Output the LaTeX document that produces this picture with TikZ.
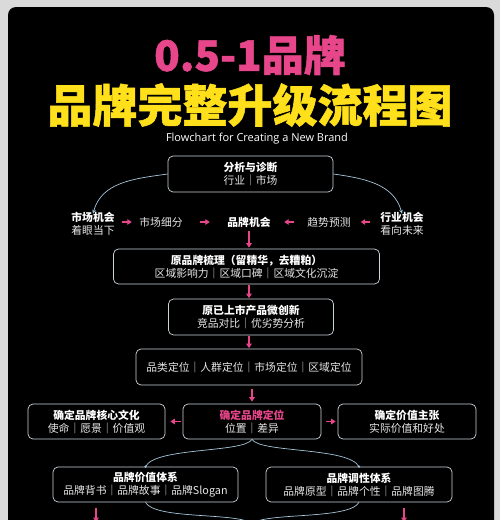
\documentclass[tikz,border=0pt]{standalone}
\usepackage{fontspec}
\setmainfont{Noto Sans CJK SC}
\newfontfamily\opensans{Open Sans}
\newfontfamily\heavyfont[BoldFeatures={FakeBold=1.2}]{Noto Sans CJK SC}
\usetikzlibrary{arrows.meta}
\definecolor{bggray}{HTML}{DADADA}
\definecolor{pinkc}{HTML}{E8468B}
\definecolor{yellowc}{HTML}{FFE01B}
\definecolor{boxc}{HTML}{CDD5DC}
\definecolor{curvec}{HTML}{A3C6DA}
\definecolor{txtc}{HTML}{E6E6E6}
\begin{document}
\begin{tikzpicture}[x=1pt,y=-1pt,
  box/.style={draw=boxc, line width=0.7pt, rounded corners=5pt, align=center, text=txtc,
    font=\fontsize{10.8}{13}\selectfont, inner sep=0pt},
  lbl/.style={align=center, text=txtc, font=\fontsize{10.8}{13}\selectfont, inner sep=0pt},
  parr/.style={draw=pinkc, line width=1.5pt, -{Triangle[length=4.5pt,width=5.5pt]}},
  carr/.style={draw=curvec, line width=0.7pt},
  cdot/.style={fill=curvec, circle, inner sep=0pt, minimum size=2.6pt}
]
\useasboundingbox (0,0) rectangle (500,520);
\fill[bggray] (0,0) rectangle (500,520);
\fill[black, rounded corners=8pt] (8,7) rectangle (494,545);

% titles
\node[text=pinkc, font=\heavyfont\fontsize{42}{42}\selectfont\bfseries, inner sep=0pt] (t1) at (250,55) {0.5-1品牌};
\node[text=yellowc, font=\heavyfont\fontsize{45}{45}\selectfont\bfseries, inner sep=0pt] (t2) at (250,105) {品牌完整升级流程图};
\node[text=white, font=\opensans\fontsize{11}{13}\selectfont, inner sep=0pt] (t3) at (257,139) {Flowchart for Creating a New Brand};

% boxes
\node[box, minimum width=165pt, minimum height=36pt] (b1) at (250.5,174) {{\bfseries\color{white}分析与诊断}\\行业｜市场};

\node[lbl] (mkt) at (93,223.5) {{\bfseries\color{white}市场机会}\\着眼当下};
\node[lbl] (seg) at (161,222) {市场细分};
\node[lbl, font=\fontsize{10.8}{13}\selectfont\bfseries, text=white] (pm) at (249,222) {品牌机会};
\node[lbl] (trend) at (329,222) {趋势预测};
\node[lbl] (ind) at (402,223.5) {{\bfseries\color{white}行业机会}\\看向未来};

\node[box, minimum width=266pt, minimum height=35pt] (b2) at (246.5,266.5) {{\bfseries\color{white}原品牌梳理（留精华，去糟粕）}\\区域影响力｜区域口碑｜区域文化沉淀};
\node[box, minimum width=165pt, minimum height=36pt] (b3) at (251,317) {{\bfseries\color{white}原已上市产品微创新}\\竞品对比｜优劣势分析};
\node[box, minimum width=226pt, minimum height=36pt] (b4) at (249,367) {品类定位｜人群定位｜市场定位｜区域定位};

\node[box, minimum width=137pt, minimum height=35pt] (ml) at (96.5,421.5) {{\bfseries\color{white}确定品牌核心文化}\\使命｜愿景｜价值观};
\node[box, minimum width=138pt, minimum height=35pt] (mm) at (252,421.5) {{\bfseries\color{pinkc}确定品牌定位}\\位置｜差异};
\node[box, minimum width=138pt, minimum height=35pt] (mr) at (407,421.5) {{\bfseries\color{white}确定价值主张}\\实际价值和好处};

\node[box, minimum width=185pt, minimum height=35pt] (lb) at (145.5,484.5) {{\bfseries\color{white}品牌价值体系}\\品牌背书｜品牌故事｜品牌Slogan};
\node[box, minimum width=186pt, minimum height=35pt] (rb) at (359,484.5) {{\bfseries\color{white}品牌调性体系}\\品牌原型｜品牌个性｜品牌图腾};

\coordinate (bj) at (252,524);
\coordinate (pa1) at (96,508);
\coordinate (pa1e) at (96,522);
\coordinate (pa2) at (404,508);
\coordinate (pa2e) at (404,522);

% curved connectors
\draw[carr, -{Stealth[length=4pt,width=3.5pt]}] (b1.west) to[out=188,in=75] ([yshift=-2pt]mkt.north);
\draw[carr, -{Stealth[length=4pt,width=3.5pt]}] (b1.east) to[out=-8,in=105] ([yshift=-2pt]ind.north);

\draw[carr] (mm.south) .. controls (244,453) and (155,447) .. (lb.north);
\draw[carr] (mm.south) .. controls (260,453) and (349,447) .. (rb.north);
\draw[carr] (lb.south) .. controls (155,520) and (240,512) .. (bj);
\draw[carr] (rb.south) .. controls (349,520) and (264,512) .. (bj);
\node[cdot] at (lb.north) {};
\node[cdot] at (rb.north) {};

% pink arrows
\draw[parr, shorten <=7.4pt, shorten >=7.4pt] (mkt.east |- seg.west) -- (seg.west);
\draw[parr, shorten <=17.4pt, shorten >=17.4pt] (seg.east) -- (pm.west);
\draw[parr, shorten <=13.4pt, shorten >=13.4pt] (trend.west) -- (pm.east);
\draw[parr, shorten <=9.9pt, shorten >=9.9pt] (ind.west |- trend.east) -- (trend.east);
\draw[parr, shorten <=4pt, shorten >=1pt] (pm.south) -- (b2.north -| pm.south);
\draw[parr, shorten <=1pt, shorten >=0.5pt] (b2.south -| b4.north) -- (b3.north -| b4.north);
\draw[parr, shorten <=1pt, shorten >=0.5pt] (b3.south -| b4.north) -- (b4.north);
\draw[parr, shorten <=4pt, shorten >=2pt] (b4.south -| mm.north) -- (mm.north);
\draw[parr, shorten <=2pt, shorten >=5pt] (mm.west) -- (ml.east);
\draw[parr, shorten <=5pt, shorten >=2pt] (mm.east) -- (mr.west);
\draw[parr] (pa1) -- (pa1e);
\draw[parr] (pa2) -- (pa2e);
\end{tikzpicture}
\end{document}
